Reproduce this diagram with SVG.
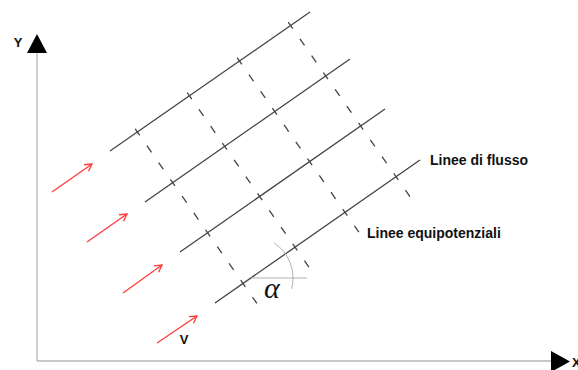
<svg xmlns="http://www.w3.org/2000/svg" width="578" height="370" viewBox="0 0 578 370">
<style>
.axis{stroke:#b5b5b5;stroke-width:1.3;fill:none}
.flow{stroke:#444;stroke-width:1.3;fill:none}
.equi{stroke:#444;stroke-width:1.3;fill:none;stroke-dasharray:8 12.5}
.vel{stroke:#ff3b3b;stroke-width:1.3;fill:none;marker-end:url(#ah)}
.lbl{font-family:"Liberation Sans",Arial,sans-serif;font-weight:bold;fill:#111}
.ang{stroke:#b0b0b0;stroke-width:1;fill:none}
</style>
<defs>
<marker id="ah" markerWidth="10" markerHeight="10" refX="8" refY="5" orient="auto" markerUnits="userSpaceOnUse">
<path d="M1,1 L8,5 L1,9" fill="none" stroke="#ff3b3b" stroke-width="1.3"/>
</marker>
</defs>
<g id="axes">
<line class="axis" x1="37" y1="52" x2="37" y2="361"/>
<line class="axis" x1="37" y1="361" x2="552" y2="361"/>
<polygon points="37,34 27,53 47,53" fill="#000"/>
<polygon points="570,361.5 551,351 551,372" fill="#000"/>
<text class="lbl" x="18" y="47" font-size="13" text-anchor="middle">Y</text>
<text class="lbl" x="572" y="367" font-size="13">X</text>
</g>
<g id="connectors">
<g id="flow-lines">
<line class="flow" x1="110" y1="151" x2="310" y2="12"/>
<line class="flow" x1="145" y1="202" x2="350" y2="59"/>
<line class="flow" x1="180" y1="252" x2="385" y2="109"/>
<line class="flow" x1="215" y1="303" x2="420" y2="160"/>
</g>
<g id="equipotential-lines">
<line class="equi" x1="135.2" y1="128.9" x2="256.9" y2="303.4"/>
<line class="equi" x1="187.2" y1="92.6" x2="308.9" y2="267.1"/>
<line class="equi" x1="237.2" y1="57.7" x2="358.9" y2="232.2"/>
<line class="equi" x1="288.2" y1="22.1" x2="409.9" y2="196.6"/>
</g>
<g id="velocity-arrows">
<line class="vel" x1="52" y1="192" x2="92" y2="164"/>
<line class="vel" x1="87" y1="242" x2="127" y2="214"/>
<line class="vel" x1="123" y1="293" x2="162" y2="265"/>
<line class="vel" x1="157" y1="343" x2="197" y2="316"/>
</g>
</g>
<g id="angle">
<line class="ang" x1="251" y1="278" x2="307" y2="278"/>
<path class="ang" d="M273.9,242.8 A42,42 0 0 1 291.6,288.9"/>
<text x="264" y="298" font-family="'Liberation Serif','DejaVu Serif',serif" font-style="italic" font-size="30" fill="#111">α</text>
</g>
<g id="label-v"><text class="lbl" x="184" y="344" font-size="13" text-anchor="middle">V</text></g>
<g id="label-flusso"><text class="lbl" x="430" y="165" font-size="14">Linee di flusso</text></g>
<g id="label-equi"><text class="lbl" x="367" y="238" font-size="14">Linee equipotenziali</text></g>
</svg>
